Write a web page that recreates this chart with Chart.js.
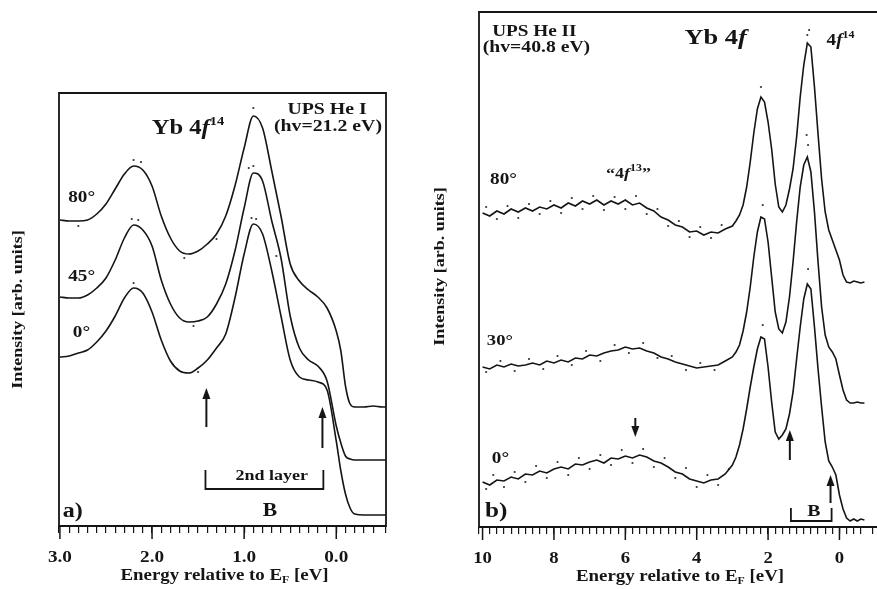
<!DOCTYPE html>
<html><head><meta charset="utf-8">
<script src="https://cdn.jsdelivr.net/npm/chart.js@4.4.1/dist/chart.umd.min.js"></script>
<style>
html,body{margin:0;padding:0;background:#fff;overflow:hidden;}
#wrap{position:relative;width:877px;height:589px;background:#fff;}
canvas{position:absolute;left:0;top:0;}
</style></head><body>
<div id="wrap"><canvas id="ca" width="877" height="589"></canvas><canvas id="cb" width="877" height="589"></canvas></div>
<script>
// ---------- Panel a) UPS He I ----------
const energyA = [3.0,2.9,2.8,2.7,2.6,2.5,2.4,2.3,2.2,2.1,2.0,1.9,1.8,1.7,1.6,1.5,1.4,1.3,1.2,1.1,1.0,0.9,0.8,0.7,0.6,0.5,0.4,0.3,0.2,0.1,0.0,-0.05,-0.1,-0.15,-0.2,-0.3,-0.4,-0.5,-0.54];
const heI_80 = [306,305,305,306,312,322,337,352,360,356,340,310,288,275,272,275,282,292,310,340,378,410,398,355,310,262,245,236,229,218,195,175,140,122,119,119,120,119,119];
const heI_45 = [229,228,228,231,238,248,266,288,301,296,280,246,222,208,204,205,209,222,242,275,318,353,345,305,268,210,178,166,160,145,100,83,70,67,66,66,66,66,66];
const heI_0  = [169,170,173,176,184,195,210,228,238,233,214,186,165,155,153,158,166,178,192,228,272,302,292,255,210,166,149,146,144,136,85,55,32,18,12,11,11,11,11];
const heI_dotsE = [2.2,2.12,0.9,1.65,2.8,1.3, 2.22,2.15,0.9,0.95,1.55,0.65, 2.2,0.92,0.87,1.5];
const heI_dotsV = [366,364,418,268,300,287, 307,306,360,358,200,270, 243,308,307,154];
const ticksA = [3.0,2.0,1.0,0.0];

// ---------- Panel b) UPS He II ----------
const energyB = [10.0,9.8,9.6,9.4,9.2,9.0,8.8,8.6,8.4,8.2,8.0,7.8,7.6,7.4,7.2,7.0,6.8,6.6,6.4,6.2,6.0,5.8,5.6,5.4,5.2,5.0,4.8,4.6,4.4,4.2,4.0,3.8,3.6,3.4,3.2,3.0,
  2.9,2.8,2.7,2.6,2.5,2.4,2.3,2.2,2.1,2.0,1.9,1.8,1.7,1.6,1.5,1.4,1.3,1.2,1.1,1.0,0.9,0.8,0.7,0.6,0.5,0.4,0.3,0.2,0.1,0.0,-0.1,-0.2,-0.3,-0.4,-0.5,-0.6,-0.7];
const heII_80 = [314,311,316,313,318,315,319,316,320,318,322,319,324,321,326,323,327,322,326,323,327,322,324,319,316,310,307,302,300,295,296,292,295,294,298,301,
  306,312,322,340,365,394,418,430,425,405,378,343,320,315,322,338,358,390,430,462,484,480,440,393,348,315,297,287,277,267,252,245,244,246,245,244,245];
const heII_30 = [160,158,162,160,163,161,162,164,162,166,164,167,165,169,168,172,171,174,176,177,180,178,179,176,174,170,168,165,163,161,159,160,161,162,166,170,
  175,182,196,215,240,270,295,310,308,285,250,215,198,194,205,230,265,305,340,362,370,355,315,265,220,192,180,175,168,152,137,127,124,124,125,124,124];
const heII_0  = [45,42,47,46,50,48,53,52,56,54,58,60,58,63,62,65,67,64,69,68,71,69,72,70,66,64,60,55,53,48,46,44,47,48,53,62,
  70,82,98,118,140,160,178,190,188,160,125,95,88,92,98,113,135,168,200,228,243,238,200,158,120,85,66,60,52,32,18,9,6,8,6,8,7];
const heII_dotsE = [9.9,9.6,9.3,9.0,8.7,8.4,8.1,7.8,7.5,7.2,6.9,6.6,6.3,6.0,5.7,5.4,5.1,4.8,4.5,4.2,3.9,3.6,3.3,2.2,0.85,0.9,
  9.9,9.5,9.1,8.7,8.3,7.9,7.5,7.1,6.7,6.3,5.9,5.5,5.1,4.7,4.3,3.9,3.5,2.15,0.88,0.92,
  9.9,9.7,9.4,9.1,8.8,8.5,8.2,7.9,7.6,7.3,7.0,6.7,6.4,6.1,5.8,5.5,5.2,4.9,4.6,4.3,4.0,3.7,3.4,3.1,2.15,0.88];
const heII_dotsV = [320,308,321,309,323,313,326,314,329,318,331,317,330,318,331,313,318,301,306,290,300,289,302,440,497,492,
  155,166,156,168,158,171,162,176,166,182,174,184,169,171,157,164,157,322,382,392,
  38,52,40,55,45,61,49,65,52,69,58,72,62,77,64,78,60,69,49,59,40,52,42,58,202,258];
const ticksB = [10,8,6,4,2,0];

// ---------- helpers ----------
const SERIF = '"Liberation Serif","DejaVu Serif",serif';
const pairs = (xs, ys) => xs.map((v, i) => ({x: v, y: ys[i]}));
const INK = '#151515';
const SX = 1.2; // horizontal stretch of the scanned lettering

function drawRuns(ctx, x, y, runs, align, sx, rot, baseline) {
  sx = sx || SX;
  let w = 0;
  const rs = runs.map(r => {
    ctx.font = (r[2] || 'bold') + ' ' + r[1] + 'px ' + SERIF;
    const m = ctx.measureText(r[0]).width;
    w += m;
    return {t: r[0], font: ctx.font, w: m, dy: r[3] || 0};
  });
  const off = align === 'center' ? -w / 2 : (align === 'right' ? -w : 0);
  ctx.save();
  ctx.translate(x, y);
  if (rot) ctx.rotate(rot);
  ctx.scale(sx, 1);
  ctx.textAlign = 'left';
  ctx.textBaseline = baseline || 'alphabetic';
  let cx = off;
  rs.forEach(r => { ctx.font = r.font; ctx.fillText(r.t, cx, r.dy); cx += r.w; });
  ctx.restore();
}

const annoPlugin = {
  id: 'anno',
  afterDatasetsDraw(chart, args, o) {
    const {ctx, chartArea: ca, scales: {x, y}} = chart;
    ctx.save();
    ctx.fillStyle = INK; ctx.strokeStyle = INK;
    // frame
    ctx.lineWidth = 1.8;
    ctx.beginPath();
    if (o.frame === 'full') {
      ctx.rect(ca.left, ca.top, ca.right - ca.left, ca.bottom - ca.top);
    } else {
      ctx.moveTo(ca.right + 5, ca.top); ctx.lineTo(ca.left, ca.top);
      ctx.lineTo(ca.left, ca.bottom); ctx.lineTo(ca.right + 5, ca.bottom);
    }
    ctx.stroke();
    // longer major ticks + tick labels
    ctx.lineWidth = 1.5;
    o.major.forEach(v => {
      const px = x.getPixelForValue(v);
      ctx.beginPath(); ctx.moveTo(px, ca.bottom); ctx.lineTo(px, ca.bottom + 13); ctx.stroke();
      drawRuns(ctx, px, ca.bottom + o.tickDy, [[o.fmt(v), o.tickSize]], 'center', o.tickSx);
    });
    // arrows
    o.arrows.forEach(a => {
      const px = x.getPixelForValue(a.x), p1 = y.getPixelForValue(a.y1), p2 = y.getPixelForValue(a.y2);
      const dir = p2 < p1 ? -1 : 1;
      ctx.lineWidth = 2;
      ctx.beginPath(); ctx.moveTo(px, p1); ctx.lineTo(px, p2 - dir * 8); ctx.stroke();
      ctx.beginPath(); ctx.moveTo(px, p2); ctx.lineTo(px - 4, p2 - dir * 11); ctx.lineTo(px + 4, p2 - dir * 11); ctx.closePath(); ctx.fill();
    });
    // brackets
    o.brackets.forEach(b => {
      const x1 = x.getPixelForValue(b.x1), x2 = x.getPixelForValue(b.x2);
      const yt = y.getPixelForValue(b.yTop), yb = y.getPixelForValue(b.yBot);
      ctx.lineWidth = 1.8;
      ctx.beginPath(); ctx.moveTo(x1, yt); ctx.lineTo(x1, yb); ctx.lineTo(x2, yb); ctx.lineTo(x2, yt); ctx.stroke();
    });
    // texts
    o.texts.forEach(t => drawRuns(ctx, x.getPixelForValue(t.x), y.getPixelForValue(t.y), t.runs, t.align));
    // x-axis title (with subscript F)
    drawRuns(ctx, (ca.left + ca.right) / 2 + o.titleDx, ca.bottom + o.titleDy,
      [['Energy relative to E', 16], ['F', 10, 'bold', 3], [' [eV]', 16]], 'center', 1.18);
    // y-axis title
    drawRuns(ctx, ca.left + o.yTitleDx, (ca.top + ca.bottom) / 2 + o.yTitleDy,
      [['Intensity [arb. units]', 15]], 'center', 1.2, -Math.PI / 2, 'middle');
    ctx.restore();
  }
};

function makeChart(id, cfg) {
  const ds = cfg.series.map(s => ({
    type: 'line', data: pairs(s.e, s.v), borderColor: INK, borderWidth: 1.6,
    pointRadius: 0, fill: false, tension: cfg.tension, cubicInterpolationMode: cfg.tension ? 'monotone' : 'default'
  }));
  ds.push({type: 'scatter', data: pairs(cfg.dotsE, cfg.dotsV), pointRadius: 1.1, pointBorderWidth: 0,
    backgroundColor: '#333', borderColor: '#333', showLine: false});
  return new Chart(document.getElementById(id), {
    type: 'line',
    data: {datasets: ds},
    plugins: [annoPlugin],
    options: {
      responsive: false, animation: false, devicePixelRatio: 1,
      layout: {padding: cfg.padding},
      plugins: {legend: {display: false}, tooltip: {enabled: false}, anno: cfg.anno},
      scales: {
        x: {
          type: 'linear', reverse: true, min: cfg.xmin, max: cfg.xmax,
          afterFit: s => { s.height = cfg.xh; },
          border: {display: false},
          grid: {drawOnChartArea: false, drawTicks: true, tickLength: 7, color: INK, lineWidth: 1.2},
          ticks: {stepSize: cfg.step, autoSkip: false, maxRotation: 0, minRotation: 0, maxTicksLimit: 200,
            display: false}
        },
        y: {
          min: 0, max: cfg.ymax,
          afterFit: s => { s.width = 59; },
          border: {display: false},
          grid: {display: false},
          ticks: {display: false}
        }
      }
    }
  });
}

makeChart('ca', {
  series: [{e: energyA, v: heI_80}, {e: energyA, v: heI_45}, {e: energyA, v: heI_0}],
  dotsE: heI_dotsE, dotsV: heI_dotsV, tension: 0.4,
  padding: {left: 0, top: 93, right: 491, bottom: 0}, xh: 63, ymax: 433,
  xmin: -0.54, xmax: 3.01, step: 0.1,
  anno: {
    frame: 'full', major: ticksA, fmt: v => v.toFixed(1), tickSize: 16, tickSx: 1.2, tickDy: 36,
    titleDx: 2, titleDy: 54, yTitleDx: -41, yTitleDy: 0,
    arrows: [{x: 1.41, y1: 99, y2: 138}, {x: 0.15, y1: 78, y2: 119}],
    brackets: [{x1: 1.42, x2: 0.14, yTop: 56, yBot: 37}],
    texts: [
      {x: 1.61, y: 392, align: 'center', runs: [['Yb 4', 20.5], ['f', 20.5, 'bold italic'], ['14', 12, 'bold', -9]]},
      {x: 0.10, y: 412, align: 'center', runs: [['UPS He I', 16.5]]},
      {x: 0.09, y: 395, align: 'center', runs: [['(hv=21.2 eV)', 16.5]]},
      {x: 2.91, y: 324, align: 'left', runs: [['80°', 16]]},
      {x: 2.91, y: 245, align: 'left', runs: [['45°', 16]]},
      {x: 2.86, y: 189, align: 'left', runs: [['0°', 16]]},
      {x: 0.70, y: 46, align: 'center', runs: [['2nd layer', 15]]},
      {x: 0.72, y: 10, align: 'center', runs: [['B', 18]]},
      {x: 2.97, y: 9, align: 'left', runs: [['a)', 20]]}
    ]
  }
});

makeChart('cb', {
  series: [{e: energyB, v: heII_80}, {e: energyB, v: heII_30}, {e: energyB, v: heII_0}],
  dotsE: heII_dotsE, dotsV: heII_dotsV, tension: 0,
  padding: {left: 420, top: 12, right: 0, bottom: 0}, xh: 62, ymax: 515,
  xmin: -0.94, xmax: 10.1, step: 0.2,
  anno: {
    frame: 'open', major: ticksB, fmt: v => String(v), tickSize: 17, tickSx: 1.1, tickDy: 36,
    titleDx: 4, titleDy: 54, yTitleDx: -39, yTitleDy: -3,
    arrows: [{x: 5.72, y1: 109, y2: 90}, {x: 1.39, y1: 67, y2: 97}, {x: 0.25, y1: 24, y2: 52}],
    brackets: [{x1: 1.36, x2: 0.22, yTop: 19, yBot: 6}],
    texts: [
      {x: 8.55, y: 491, align: 'center', runs: [['UPS He II', 16]]},
      {x: 8.49, y: 475, align: 'center', runs: [['(hv=40.8 eV)', 16.4]]},
      {x: 3.47, y: 483, align: 'center', runs: [['Yb 4', 22], ['f', 22, 'bold italic']]},
      {x: 0.36, y: 482, align: 'left', runs: [['4', 16], ['f', 16, 'bold italic'], ['14', 10, 'bold', -7]]},
      {x: 9.79, y: 343, align: 'left', runs: [['80°', 16]]},
      {x: 5.91, y: 349, align: 'center', runs: [['\u201C4', 15], ['f', 15, 'bold italic'], ['13', 10, 'bold', -7], ['\u201D', 15]]},
      {x: 9.88, y: 182, align: 'left', runs: [['30°', 15.5]]},
      {x: 9.74, y: 64, align: 'left', runs: [['0°', 16]]},
      {x: 9.93, y: 10, align: 'left', runs: [['b)', 21]]},
      {x: 0.72, y: 11, align: 'center', runs: [['B', 16.5]]}
    ]
  }
});
</script>
</body></html>
